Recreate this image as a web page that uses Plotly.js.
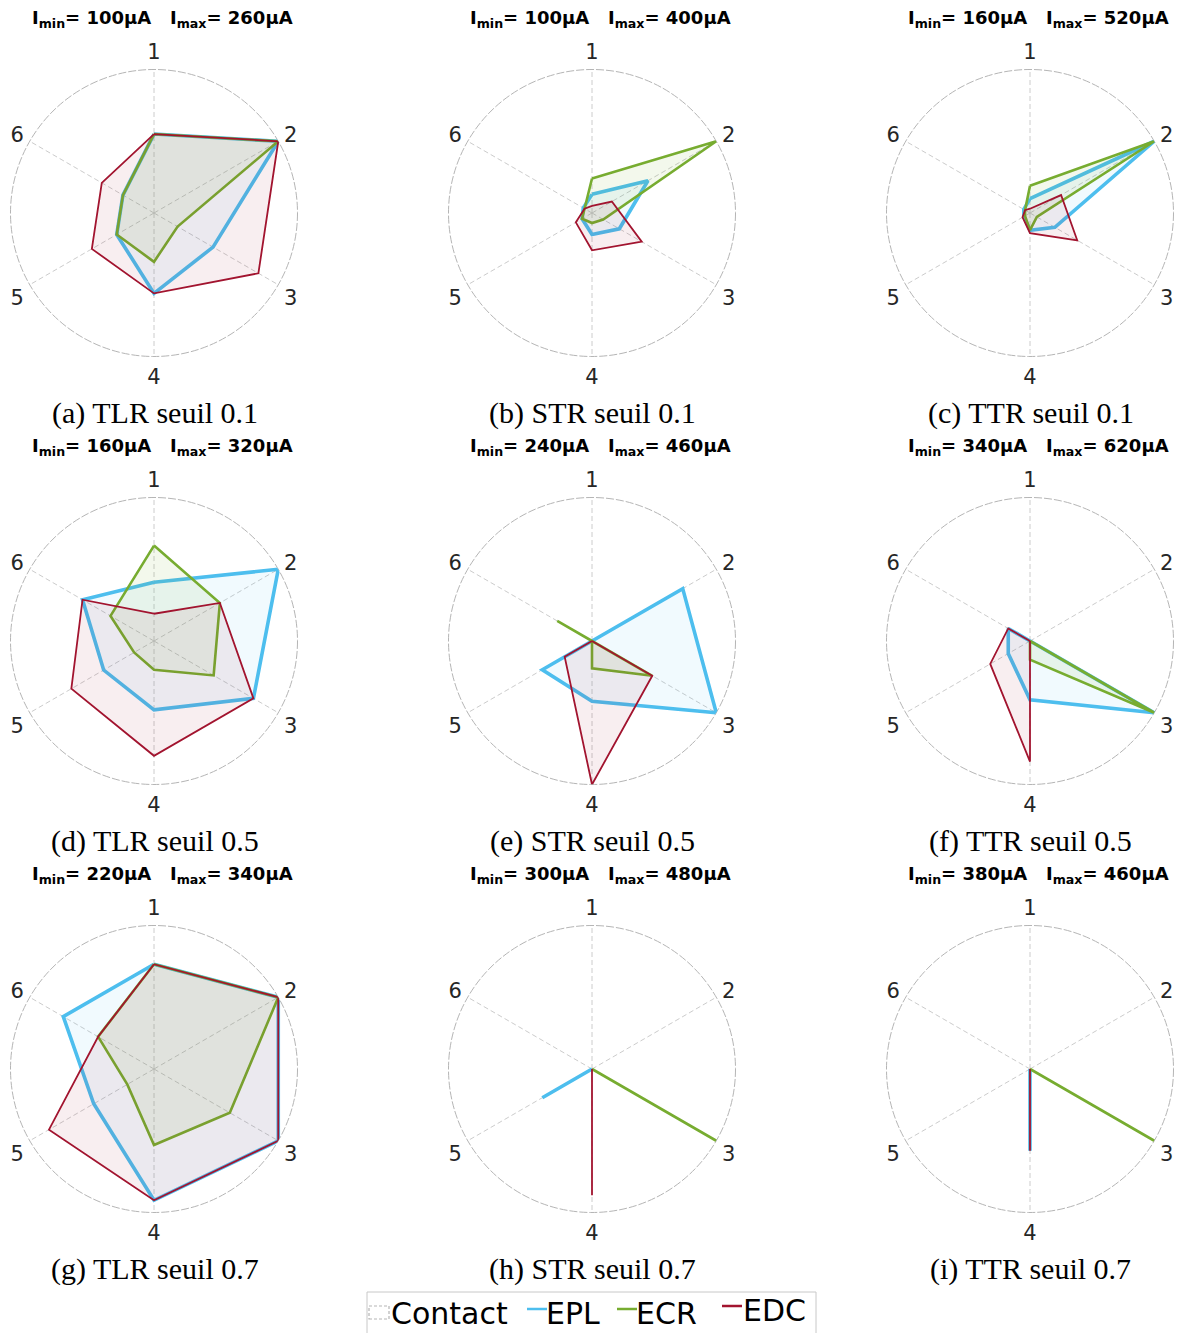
<!DOCTYPE html>
<html><head><meta charset="utf-8">
<script src="https://cdn.plot.ly/plotly-3.0.1.min.js"></script>
<style>html,body{margin:0;padding:0;background:#fff}</style>
</head><body><div id="chart" style="width:1178px;height:1333px"></div>
<script>
// ---- data ----
const spokes = ['1', '2', '3', '4', '5', '6'];
const captions = ['(a) TLR seuil 0.1', '(b) STR seuil 0.1', '(c) TTR seuil 0.1',
                  '(d) TLR seuil 0.5', '(e) STR seuil 0.5', '(f) TTR seuil 0.5',
                  '(g) TLR seuil 0.7', '(h) STR seuil 0.7', '(i) TTR seuil 0.7'];
const iMin = [100, 100, 160, 160, 240, 340, 220, 300, 380];
const iMax = [260, 400, 520, 320, 460, 620, 340, 480, 460];

const epl_a = [0.55, 1.00, 0.475, 0.56, 0.30, 0.25];
const ecr_a = [0.55, 1.00, 0.19, 0.34, 0.30, 0.25];
const edc_a = [0.55, 1.00, 0.84, 0.56, 0.50, 0.42];

const epl_b = [0.13, 0.45, 0.22, 0.15, 0.08, 0.07];
const ecr_b = [0.24, 1.00, 0.09, 0.07, 0.08, 0.06];
const edc_b = [0.05, 0.16, 0.40, 0.26, 0.13, 0.06];

const epl_c = [0.10, 1.00, 0.20, 0.12, 0.05, 0.05];
const ecr_c = [0.19, 1.00, 0.055, 0.12, 0.04, 0.04];
const edc_c = [0.03, 0.25, 0.38, 0.14, 0.06, 0.04];

const epl_d = [0.41, 1.00, 0.80, 0.48, 0.405, 0.575];
const ecr_d = [0.665, 0.53, 0.48, 0.20, 0.16, 0.35];
const edc_d = [0.19, 0.53, 0.80, 0.80, 0.665, 0.575];

const epl_e = [0.00, 0.73, 1.00, 0.42, 0.40, 0.00];
const ecr_e = [0.00, 0.00, 0.485, 0.19, 0.00, 0.28];
const edc_e = [0.00, 0.00, 0.485, 1.00, 0.22, 0.00];

const epl_f = [0.00, 0.00, 1.00, 0.41, 0.175, 0.175];
const ecr_f = [0.00, 0.00, 1.00, 0.13, 0.00, 0.00];
const edc_f = [0.00, 0.00, 0.00, 0.84, 0.32, 0.175];

const epl_g = [0.73, 1.00, 1.00, 0.915, 0.485, 0.73];
const ecr_g = [0.73, 1.00, 0.61, 0.53, 0.215, 0.45];
const edc_g = [0.73, 1.00, 1.00, 0.915, 0.845, 0.45];

const epl_h = [0.00, 0.00, 0.00, 0.00, 0.40, 0.00];
const ecr_h = [0.00, 0.00, 1.00, 0.00, 0.00, 0.00];
const edc_h = [0.00, 0.00, 0.00, 0.88, 0.00, 0.00];

const epl_i = [0.00, 0.00, 0.00, 0.57, 0.00, 0.00];
const ecr_i = [0.00, 0.00, 1.00, 0.00, 0.00, 0.00];
const edc_i = [0.00, 0.00, 0.00, 0.57, 0.00, 0.00];

const seriesNames = ['EPL', 'ECR', 'EDC'];
const legendNames = ['Contact', 'EPL', 'ECR', 'EDC'];
const panels = [
  [epl_a, ecr_a, edc_a], [epl_b, ecr_b, edc_b], [epl_c, ecr_c, edc_c],
  [epl_d, ecr_d, edc_d], [epl_e, ecr_e, edc_e], [epl_f, ecr_f, edc_f],
  [epl_g, ecr_g, edc_g], [epl_h, ecr_h, edc_h], [epl_i, ecr_i, edc_i]
];

// ---- styles ----
const W = 1178, H = 1333;
const colors = ['#4DBEEE', '#77AC30', '#A2142F'];
const fills = ['rgba(77,190,238,0.08)', 'rgba(119,172,48,0.09)', 'rgba(162,20,47,0.07)'];
const widths = [3.6, 2.6, 1.8];
const cxs = [154, 592, 1030];
const cys = [213, 641, 1069];
const R = 143.5;
const px = x => x / W;
const py = y => 1 - y / H;

const traces = [];
const layout = {
  width: W, height: H,
  margin: {l: 0, r: 0, t: 0, b: 0},
  paper_bgcolor: '#fff',
  showlegend: false,
  annotations: [],
  shapes: []
};

panels.forEach((p, k) => {
  const id = k === 0 ? 'polar' : 'polar' + (k + 1);
  const cx = cxs[k % 3], cy = cys[Math.floor(k / 3)];
  layout[id] = {
    domain: {x: [px(cx - R), px(cx + R)], y: [py(cy + R), py(cy - R)]},
    bgcolor: 'rgba(0,0,0,0)',
    radialaxis: {visible: false, range: [0, 1]},
    angularaxis: {type: 'category', categoryarray: spokes, rotation: 90, direction: 'clockwise',
                  showline: false, showgrid: true, gridcolor: '#cccccc', gridwidth: 1, griddash: '5px,3px',
                  ticks: 'outside', ticklen: 2, tickcolor: 'rgba(0,0,0,0)',
                  tickfont: {family: 'DejaVu Sans', size: 21, color: '#262626'}}
  };
  // outer dashed circle of the radar
  layout.shapes.push({
    type: 'circle', xref: 'paper', yref: 'paper', layer: 'below',
    x0: px(cx - R), x1: px(cx + R), y0: py(cy + R), y1: py(cy - R),
    line: {color: '#b5b5b5', width: 1, dash: '8px,2px'}
  });
  p.forEach((vals, s) => {
    traces.push({
      type: 'scatterpolar', subplot: id, name: seriesNames[s], showlegend: false,
      r: vals.concat([vals[0]]), theta: spokes.concat([spokes[0]]),
      mode: 'lines', fill: 'toself', fillcolor: fills[s],
      line: {color: colors[s], width: widths[s]}, hoverinfo: 'skip'
    });
  });
  layout.annotations.push({
    xref: 'paper', yref: 'paper', x: px(cx + 8.5), y: py(cy - 194),
    xanchor: 'center', yanchor: 'middle', showarrow: false,
    text: '<b>I<sub>min</sub>= ' + iMin[k] + 'μA\u00a0\u00a0\u00a0I<sub>max</sub>= ' + iMax[k] + 'μA</b>',
    font: {family: 'DejaVu Sans', size: 18, color: '#000'}
  });
  layout.annotations.push({
    xref: 'paper', yref: 'paper', x: px(cx + 0.5), y: py(cy + 200),
    xanchor: 'center', yanchor: 'middle', showarrow: false,
    text: captions[k],
    font: {family: 'Liberation Serif', size: 30, color: '#000'}
  });
});

// ---- legend (drawn as shapes + text) ----
layout.shapes.push({type: 'rect', xref: 'paper', yref: 'paper', layer: 'below',
  x0: px(367), x1: px(816), y0: py(1345), y1: py(1292),
  line: {color: '#c8c8c8', width: 1}, fillcolor: '#ffffff'});
layout.shapes.push({type: 'rect', xref: 'paper', yref: 'paper', layer: 'above',
  x0: px(369), x1: px(389), y0: py(1319), y1: py(1306),
  line: {color: '#b5b5b5', width: 1.2, dash: '3px,2px'}, fillcolor: 'rgba(0,0,0,0)'});
const legLineX = [527, 617, 722];
const legLineY = [1309, 1309, 1306];
colors.forEach((c, s) => layout.shapes.push({type: 'line', xref: 'paper', yref: 'paper', layer: 'above',
  x0: px(legLineX[s]), x1: px(legLineX[s] + 20), y0: py(legLineY[s]), y1: py(legLineY[s]),
  line: {color: c, width: 2.5}}));
const legTextX = [389, 544, 634, 741];
const legTextY = [1313, 1313, 1313, 1310];
legendNames.forEach((n, i) => layout.annotations.push({
  xref: 'paper', yref: 'paper', x: px(legTextX[i]), y: py(legTextY[i]),
  xanchor: 'left', yanchor: 'middle', showarrow: false, text: n,
  font: {family: 'DejaVu Sans', size: 30, color: '#000'}
}));

Plotly.newPlot('chart', traces, layout, {staticPlot: true});
</script></body></html>
